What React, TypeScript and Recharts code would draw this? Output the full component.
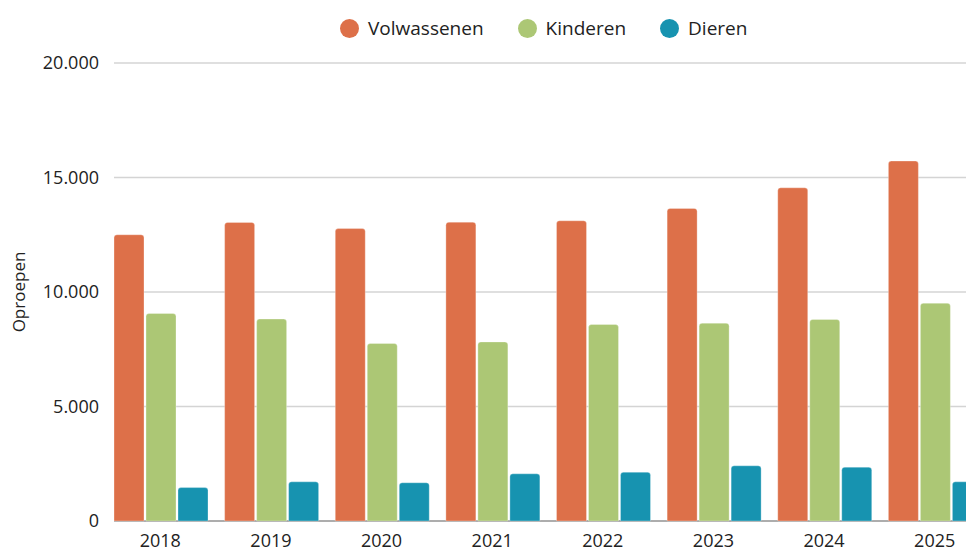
import React from 'react';
import { BarChart, Bar, XAxis, YAxis, CartesianGrid, Legend, Label } from 'recharts';

const years = ['2018', '2019', '2020', '2021', '2022', '2023', '2024', '2025'];
const volwassenen = [12500, 13040, 12770, 13050, 13110, 13650, 14550, 15720];
const kinderen = [9060, 8820, 7750, 7820, 8580, 8640, 8800, 9510];
const dieren = [1460, 1710, 1670, 2060, 2130, 2410, 2350, 1710];
const yTicks = [0, 5000, 10000, 15000, 20000];

const seriesNames = ['Volwassenen', 'Kinderen', 'Dieren'];
const colors = ['#DD7049', '#ACC775', '#1793B0'];

const data = years.map((y, i) => ({
  year: y,
  Volwassenen: volwassenen[i],
  Kinderen: kinderen[i],
  Dieren: dieren[i],
}));

const FONT = "'Open Sans', 'Noto Sans', sans-serif";
const TEXT = '#222222';

const fmt = (v: number) => String(v).replace(/\B(?=(\d{3})+(?!\d))/g, '.');

const LegendContent = () => (
  <div style={{ display: 'flex', alignItems: 'center', height: 40, fontFamily: FONT, fontSize: 19, color: TEXT }}>
    {seriesNames.map((n, i) => (
      <div key={n} style={{ display: 'flex', alignItems: 'center', marginRight: 34 }}>
        <span style={{ display: 'inline-block', width: 19, height: 19, borderRadius: '50%', background: colors[i], marginRight: 9 }} />
        <span>{n}</span>
      </div>
    ))}
  </div>
);

export default function App() {
  return (
    <div style={{ position: 'absolute', left: 0, top: 0, width: 966, height: 548, overflow: 'hidden', background: '#fff' }}>
      <BarChart
        width={1000}
        height={548}
        data={data}
        margin={{ top: 23, right: 10, left: 0, bottom: 7 }}
        barCategoryGap={9}
        barGap={2}
      >
        <CartesianGrid vertical={false} x={114} width={900} stroke="#d4d4d4" strokeWidth={1.5} />
        <CartesianGrid vertical={false} x={114} width={900} horizontalValues={[0]} stroke="#9c9c9c" strokeWidth={1.5} />
        <Legend
          verticalAlign="top"
          content={<LegendContent />}
          wrapperStyle={{ top: 8, left: 340, width: 620, height: 40 }}
        />
        <XAxis
          dataKey="year"
          axisLine={false}
          tickLine={false}
          height={20}
          tickMargin={7}
          tick={{ fill: TEXT, fontSize: 18, fontFamily: FONT }}
          interval={0}
        />
        <YAxis
          width={105}
          domain={[0, 20000]}
          ticks={yTicks}
          axisLine={false}
          tickLine={false}
          tickMargin={0}
          tickFormatter={fmt}
          tick={{ fill: TEXT, fontSize: 18, fontFamily: FONT }}
        >
          <Label
            value="Oproepen"
            angle={-90}
            position="center"
            dx={-34}
            fill={TEXT}
            fontSize={17}
            fontFamily={FONT}
            textAnchor="middle"
          />
        </YAxis>
        {seriesNames.map((n, i) => (
          <Bar
            key={n}
            dataKey={n}
            fill={colors[i]}
            radius={[3, 3, 0, 0]}
            stroke="#ffffff"
            strokeOpacity={0.3}
            strokeWidth={1}
            isAnimationActive={false}
          />
        ))}
      </BarChart>
    </div>
  );
}
